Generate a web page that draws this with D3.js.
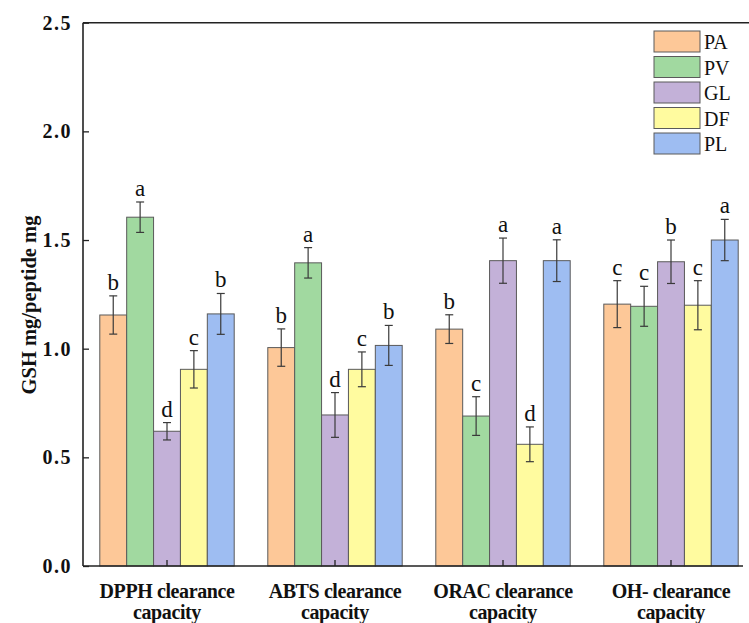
<!DOCTYPE html>
<html>
<head>
<meta charset="utf-8">
<script src="https://cdn.jsdelivr.net/npm/d3@7/dist/d3.min.js"></script>
<style>
  html, body { margin: 0; padding: 0; background: #fff; }
  svg { display: block; }
</style>
</head>
<body>
<svg id="chart" width="749" height="623"></svg>
<script>
// Assays on the x axis (two-line labels)
const assays = ["DPPH", "ABTS", "ORAC", "OH-"];
const assayLines = [
  ["DPPH clearance", "capacity"],
  ["ABTS clearance", "capacity"],
  ["ORAC clearance", "capacity"],
  ["OH- clearance", "capacity"]
];
// Peptide sources
const series = ["PA", "PV", "GL", "DF", "PL"];
const colors = ["#fdc898", "#a1d9a0", "#c3b1d8", "#fffb9f", "#9ebdf2"];

// Mean values per series, one per assay
const PA = [1.155, 1.005, 1.09, 1.205];
const PV = [1.605, 1.395, 0.69, 1.195];
const GL = [0.62, 0.695, 1.405, 1.40];
const DF = [0.905, 0.905, 0.56, 1.20];
const PL = [1.16, 1.015, 1.405, 1.50];

// Error (± SD) per series
const PA_err = [0.088, 0.086, 0.066, 0.108];
const PV_err = [0.07, 0.07, 0.089, 0.092];
const GL_err = [0.04, 0.103, 0.104, 0.10];
const DF_err = [0.086, 0.08, 0.08, 0.113];
const PL_err = [0.094, 0.092, 0.096, 0.095];

// Significance letters
const PA_sig = ["b", "b", "b", "c"];
const PV_sig = ["a", "a", "c", "c"];
const GL_sig = ["d", "d", "a", "b"];
const DF_sig = ["c", "c", "d", "c"];
const PL_sig = ["b", "b", "a", "a"];

const yTicks = [0.0, 0.5, 1.0, 1.5, 2.0, 2.5];

const values = [PA, PV, GL, DF, PL];
const errors = [PA_err, PV_err, GL_err, DF_err, PL_err];
const sigs = [PA_sig, PV_sig, GL_sig, DF_sig, PL_sig];

const rows = [];
assays.forEach((a, i) => {
  series.forEach((s, j) => {
    rows.push({ assay: a, series: s, color: colors[j], v: values[j][i], e: errors[j][i], sig: sigs[j][i] });
  });
});

const svg = d3.select("#chart");
const mLeft = 83, mTop = 22.7, mBottom = 566, mRight = 755;
const serif = "'Liberation Serif', 'Times New Roman', serif";

const x0 = d3.scaleBand().domain(assays).range([mLeft, mRight]).paddingInner(0.2).paddingOuter(0.1);
const x1 = d3.scaleBand().domain(series).range([0, x0.bandwidth()]);
const y = d3.scaleLinear().domain([0, 2.5]).range([mBottom, mTop]);

// Bars
const g = svg.append("g");
g.selectAll("rect.bar").data(rows).enter().append("rect")
  .attr("class", "bar")
  .attr("x", d => x0(d.assay) + x1(d.series))
  .attr("y", d => y(d.v))
  .attr("width", x1.bandwidth())
  .attr("height", d => y(0) - y(d.v))
  .attr("fill", d => d.color)
  .attr("stroke", "#5a5a5a")
  .attr("stroke-width", 1);

// Error bars
const cx = d => x0(d.assay) + x1(d.series) + x1.bandwidth() / 2;
const eb = g.selectAll("g.err").data(rows).enter().append("g").attr("class", "err")
  .attr("stroke", "#3a3a3a").attr("stroke-width", 1.2);
eb.append("line").attr("x1", cx).attr("x2", cx)
  .attr("y1", d => y(d.v - d.e)).attr("y2", d => y(d.v + d.e));
eb.append("line").attr("x1", d => cx(d) - 4).attr("x2", d => cx(d) + 4)
  .attr("y1", d => y(d.v + d.e)).attr("y2", d => y(d.v + d.e));
eb.append("line").attr("x1", d => cx(d) - 4).attr("x2", d => cx(d) + 4)
  .attr("y1", d => y(d.v - d.e)).attr("y2", d => y(d.v - d.e));

// Significance letters
g.selectAll("text.sig").data(rows).enter().append("text")
  .attr("class", "sig")
  .attr("x", cx)
  .attr("y", d => y(d.v + d.e) - 6)
  .attr("text-anchor", "middle")
  .attr("font-family", serif)
  .attr("font-size", 23)
  .attr("fill", "#111")
  .text(d => d.sig);

// Y axis (inward ticks)
const yAxis = d3.axisLeft(y).tickValues(yTicks).tickFormat(d3.format(".1f")).tickSizeInner(-6).tickSizeOuter(0).tickPadding(11);
const ya = svg.append("g").attr("transform", `translate(${mLeft},0)`).call(yAxis);
ya.select(".domain").remove();
ya.selectAll(".tick line").attr("stroke", "#222").attr("stroke-width", 1.3);
ya.selectAll(".tick text").attr("font-family", serif).attr("font-size", 20)
  .attr("font-weight", "bold").attr("fill", "#111").attr("letter-spacing", "1.5px");

// X axis (inward ticks at group centres)
const xAxis = d3.axisBottom(x0).tickSizeInner(-6).tickSizeOuter(0).tickFormat("");
const xa = svg.append("g").attr("transform", `translate(0,${mBottom})`).call(xAxis);
xa.select(".domain").remove();
xa.selectAll(".tick line").attr("stroke", "#222").attr("stroke-width", 1.3);

// Frame
svg.append("line").attr("x1", mLeft).attr("x2", mLeft).attr("y1", mTop).attr("y2", mBottom)
  .attr("stroke", "#222").attr("stroke-width", 1.6);
svg.append("line").attr("x1", mLeft).attr("x2", 743).attr("y1", mBottom).attr("y2", mBottom)
  .attr("stroke", "#222").attr("stroke-width", 1.6);
svg.append("line").attr("x1", mLeft).attr("x2", 749).attr("y1", mTop).attr("y2", mTop)
  .attr("stroke", "#222").attr("stroke-width", 1.6);

// Category labels
assays.forEach((a, i) => {
  const t = svg.append("text")
    .attr("x", x0(a) + x0.bandwidth() / 2)
    .attr("y", 598)
    .attr("text-anchor", "middle")
    .attr("font-family", serif).attr("font-size", 20).attr("font-weight", "bold")
    .attr("letter-spacing", "-0.4px").attr("fill", "#111");
  assayLines[i].forEach((line, k) => {
    t.append("tspan").attr("x", x0(a) + x0.bandwidth() / 2).attr("dy", k === 0 ? 0 : 21).text(line);
  });
});

// Y axis title
svg.append("text")
  .attr("transform", "translate(36,305) rotate(-90)")
  .attr("text-anchor", "middle")
  .attr("font-family", serif).attr("font-size", 20.5).attr("font-weight", "bold").attr("fill", "#111")
  .text("GSH mg/peptide mg");

// Legend
const lg = svg.append("g").attr("transform", "translate(654,31)");
series.forEach((s, j) => {
  const it = lg.append("g").attr("transform", `translate(0,${j * 25.5})`);
  it.append("rect").attr("width", 46).attr("height", 21)
    .attr("fill", colors[j]).attr("stroke", "#5a5a5a").attr("stroke-width", 1);
  it.append("text").attr("x", 50).attr("y", 18)
    .attr("font-family", serif).attr("font-size", 20).attr("fill", "#111").text(s);
});
</script>
</body>
</html>
